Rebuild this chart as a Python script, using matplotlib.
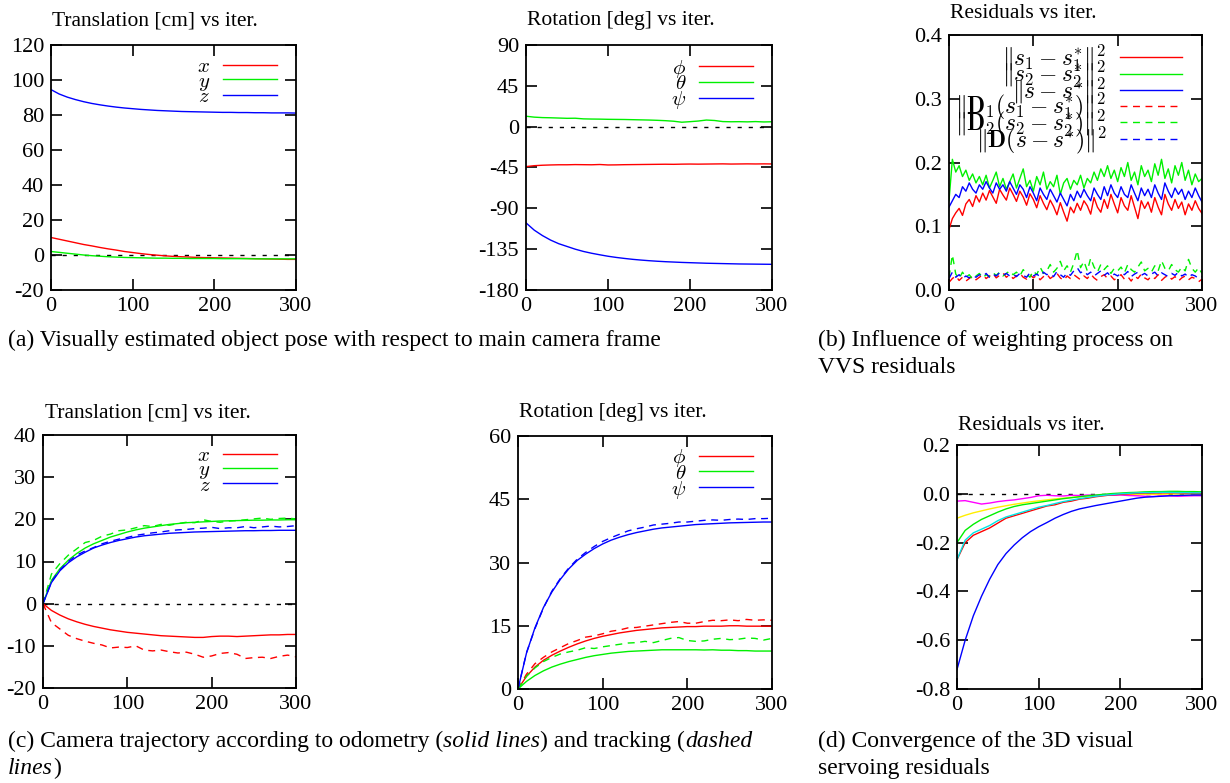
import numpy as np
import matplotlib
matplotlib.use("Agg")
import matplotlib.pyplot as plt

plt.rcParams['font.family'] = ['Liberation Serif', 'DejaVu Serif']
plt.rcParams['mathtext.fontset'] = 'cm'
plt.rcParams['axes.unicode_minus'] = False

# iteration grids
iters10 = np.arange(0, 301, 10)
iters4 = np.arange(0, 301, 4)

# (a) object pose, translation [cm]
obj_tx = [10.0, 9.0, 8.0, 7.0, 6.0, 5.2, 4.3, 3.5, 2.8, 2.0, 1.4, 0.8, 0.3, -0.1, -0.5, -0.8,
          -1.0, -1.2, -1.4, -1.5, -1.6, -1.7, -1.8, -1.9, -2.0, -2.1, -2.2, -2.3, -2.4, -2.5, -2.5]
obj_ty = [2.0, 1.5, 1.0, 0.5, 0.0, -0.4, -0.7, -1.0, -1.2, -1.4, -1.5, -1.6, -1.7, -1.8, -1.8, -1.9,
          -1.9, -2.0, -2.0, -2.0, -2.0, -2.1, -2.1, -2.1, -2.1, -2.2, -2.2, -2.2, -2.2, -2.2, -2.2]
obj_tz = [94.5, 92.0, 90.2, 88.8, 87.6, 86.6, 85.8, 85.1, 84.5, 84.0, 83.6, 83.2, 82.9, 82.6, 82.4, 82.2,
          82.0, 81.9, 81.8, 81.7, 81.6, 81.5, 81.5, 81.4, 81.4, 81.3, 81.3, 81.2, 81.2, 81.2, 81.1]

# (a) object pose, rotation [deg]
obj_phi = [-44.0, -43.0, -42.5, -42.2, -42.0, -42.0, -41.8, -41.9, -42.0, -41.7, -42.2, -42.1, -41.9, -41.8,
           -41.7, -41.6, -41.5, -41.4, -41.5, -41.3, -41.2, -41.3, -41.2, -41.1, -41.0, -41.2, -41.1, -41.0,
           -41.1, -41.0, -41.1]
obj_theta = [11.5, 10.5, 10.0, 9.8, 9.5, 9.2, 9.3, 8.6, 8.4, 8.3, 8.1, 8.0, 7.9, 7.7, 7.5, 7.3, 7.0, 6.6,
             6.0, 4.9, 5.5, 6.2, 7.3, 6.8, 5.6, 5.4, 5.5, 5.3, 5.6, 5.2, 5.4]
obj_psi = [-106.0, -114.0, -120.0, -125.0, -129.0, -132.0, -135.0, -137.5, -139.5, -141.2, -142.8, -144.1,
           -145.2, -146.2, -147.0, -147.7, -148.3, -148.8, -149.2, -149.6, -149.9, -150.2, -150.5, -150.7,
           -150.9, -151.1, -151.3, -151.4, -151.5, -151.6, -151.7]

# (b) residuals, solid = unweighted, dashed = weighted
res_s1 = [0.095, 0.112, 0.121, 0.128, 0.117, 0.135, 0.142, 0.131, 0.148, 0.138,
          0.152, 0.141, 0.156, 0.146, 0.136, 0.158, 0.149, 0.141, 0.160, 0.150,
          0.139, 0.155, 0.146, 0.133, 0.151, 0.142, 0.129, 0.148, 0.136, 0.126,
          0.141, 0.131, 0.118, 0.137, 0.122, 0.108, 0.130, 0.121, 0.136, 0.125,
          0.140, 0.132, 0.119, 0.145, 0.130, 0.122, 0.142, 0.128, 0.150, 0.135,
          0.121, 0.145, 0.132, 0.125, 0.148, 0.130, 0.112, 0.140, 0.128, 0.138,
          0.122, 0.145, 0.130, 0.118, 0.150, 0.135, 0.125, 0.142, 0.128, 0.138,
          0.118, 0.135, 0.125, 0.140, 0.128, 0.120]
res_s2 = [0.140, 0.205, 0.185, 0.195, 0.178, 0.188, 0.172, 0.182, 0.168, 0.178,
          0.165, 0.180, 0.160, 0.172, 0.185, 0.162, 0.175, 0.158, 0.170, 0.182,
          0.160, 0.175, 0.190, 0.162, 0.172, 0.155, 0.178, 0.165, 0.185, 0.158,
          0.170, 0.162, 0.180, 0.150, 0.168, 0.175, 0.158, 0.172, 0.165, 0.180,
          0.160, 0.175, 0.168, 0.185, 0.172, 0.190, 0.178, 0.195, 0.175, 0.188,
          0.170, 0.192, 0.178, 0.200, 0.172, 0.185, 0.165, 0.195, 0.178, 0.188,
          0.170, 0.198, 0.180, 0.205, 0.175, 0.190, 0.168, 0.195, 0.180, 0.200,
          0.172, 0.188, 0.165, 0.182, 0.170, 0.175]
res_s = [0.130, 0.140, 0.150, 0.145, 0.162, 0.155, 0.168, 0.158, 0.152, 0.165,
         0.158, 0.170, 0.160, 0.152, 0.168, 0.158, 0.165, 0.155, 0.170, 0.160,
         0.150, 0.165, 0.158, 0.145, 0.162, 0.152, 0.140, 0.160, 0.150, 0.142,
         0.158, 0.148, 0.138, 0.152, 0.142, 0.132, 0.150, 0.140, 0.155, 0.145,
         0.158, 0.148, 0.140, 0.160, 0.150, 0.142, 0.162, 0.148, 0.165, 0.152,
         0.145, 0.162, 0.150, 0.145, 0.165, 0.152, 0.140, 0.160, 0.148, 0.158,
         0.145, 0.165, 0.152, 0.142, 0.168, 0.155, 0.145, 0.160, 0.150, 0.158,
         0.142, 0.155, 0.145, 0.160, 0.148, 0.138]
res_d1 = [0.012, 0.018, 0.022, 0.015, 0.020, 0.014, 0.018, 0.022, 0.016, 0.020,
          0.024, 0.018, 0.022, 0.026, 0.019, 0.023, 0.027, 0.020, 0.024, 0.018,
          0.022, 0.026, 0.020, 0.017, 0.024, 0.019, 0.023, 0.016, 0.021, 0.025,
          0.018, 0.022, 0.026, 0.019, 0.015, 0.022, 0.018, 0.024, 0.020, 0.016,
          0.022, 0.018, 0.025, 0.019, 0.015, 0.021, 0.024, 0.018, 0.022, 0.016,
          0.020, 0.024, 0.017, 0.021, 0.014, 0.022, 0.018, 0.025, 0.019, 0.016,
          0.022, 0.018, 0.024, 0.015, 0.020, 0.023, 0.017, 0.021, 0.014, 0.019,
          0.022, 0.016, 0.020, 0.018, 0.013, 0.017]
res_d2 = [0.020, 0.055, 0.025, 0.018, 0.028, 0.020, 0.024, 0.017, 0.022, 0.026,
          0.019, 0.024, 0.021, 0.027, 0.023, 0.028, 0.022, 0.026, 0.030, 0.024,
          0.028, 0.022, 0.032, 0.025, 0.020, 0.030, 0.024, 0.036, 0.026, 0.030,
          0.040, 0.028, 0.034, 0.045, 0.030, 0.038, 0.028, 0.042, 0.062, 0.035,
          0.045, 0.030, 0.050, 0.036, 0.028, 0.040, 0.032, 0.038, 0.026, 0.034,
          0.030, 0.036, 0.027, 0.040, 0.032, 0.028, 0.036, 0.044, 0.030, 0.034,
          0.028, 0.038, 0.030, 0.046, 0.034, 0.030, 0.040, 0.032, 0.028, 0.036,
          0.030, 0.048, 0.034, 0.028, 0.035, 0.026]
res_d = [0.018, 0.028, 0.020, 0.024, 0.018, 0.022, 0.019, 0.023, 0.020, 0.024,
         0.021, 0.026, 0.020, 0.025, 0.022, 0.027, 0.023, 0.026, 0.022, 0.025,
         0.021, 0.026, 0.023, 0.020, 0.027, 0.022, 0.025, 0.021, 0.028, 0.024,
         0.026, 0.021, 0.029, 0.024, 0.020, 0.027, 0.023, 0.030, 0.035, 0.027,
         0.030, 0.024, 0.028, 0.022, 0.026, 0.030, 0.023, 0.027, 0.021, 0.025,
         0.022, 0.027, 0.024, 0.029, 0.021, 0.025, 0.028, 0.023, 0.026, 0.022,
         0.025, 0.028, 0.022, 0.027, 0.024, 0.021, 0.026, 0.023, 0.028, 0.022,
         0.025, 0.020, 0.024, 0.022, 0.018, 0.021]

# (c) camera trajectory, translation [cm]: odometry / tracking
cam_tx = [0.0, -1.6, -2.7, -3.6, -4.3, -4.9, -5.4, -5.8, -6.2, -6.5, -6.8, -7.0, -7.2, -7.4, -7.6, -7.7,
          -7.8, -7.9, -8.0, -8.0, -7.8, -7.7, -7.7, -7.8, -7.7, -7.6, -7.5, -7.4, -7.4, -7.3, -7.3]
cam_ty = [0.0, 5.5, 8.3, 10.3, 11.9, 13.2, 14.2, 15.0, 15.8, 16.4, 17.0, 17.5, 17.9, 18.2, 18.5, 18.8,
          19.0, 19.2, 19.3, 19.4, 19.5, 19.6, 19.65, 19.7, 19.75, 19.8, 19.8, 19.85, 19.85, 19.9, 19.9]
cam_tz = [0.0, 5.0, 7.8, 9.7, 11.1, 12.2, 13.2, 13.9, 14.5, 15.0, 15.4, 15.8, 16.1, 16.3, 16.5, 16.7,
          16.8, 16.9, 17.0, 17.05, 17.1, 17.15, 17.2, 17.25, 17.3, 17.3, 17.35, 17.35, 17.4, 17.4, 17.4]
trk_tx = [0.0, -4.5, -6.0, -7.5, -8.3, -8.9, -9.4, -9.8, -10.5, -10.3, -10.4, -10.0, -11.0, -11.2, -11.0,
          -11.4, -11.7, -11.5, -12.0, -12.7, -12.4, -11.8, -11.6, -12.0, -13.0, -12.8, -12.7, -13.0,
          -12.5, -12.2, -12.6]
trk_ty = [0.0, 7.0, 9.5, 11.5, 13.0, 14.5, 15.0, 16.0, 16.5, 17.3, 17.5, 18.0, 18.5, 18.3, 18.8, 18.6,
          19.0, 19.3, 19.2, 19.9, 19.5, 19.3, 19.6, 19.7, 19.9, 20.1, 20.3, 20.0, 20.2, 20.3, 20.1]
trk_tz = [0.0, 5.2, 8.0, 10.0, 11.5, 12.5, 13.3, 14.2, 14.8, 15.3, 15.7, 16.2, 16.5, 16.8, 17.0, 17.3,
          17.5, 17.6, 17.8, 17.9, 18.1, 17.8, 18.0, 18.0, 18.3, 18.0, 18.2, 18.4, 18.2, 18.3, 18.5]

# (c) camera trajectory, rotation [deg]
cam_phi = [0.0, 3.0, 5.2, 6.8, 8.0, 9.0, 9.9, 10.7, 11.4, 12.0, 12.5, 12.9, 13.3, 13.6, 13.9, 14.1,
           14.3, 14.5, 14.6, 14.7, 14.8, 14.8, 14.9, 14.9, 14.9, 15.0, 15.0, 14.9, 14.9, 14.9, 14.9]
cam_theta = [0.0, 1.8, 3.2, 4.3, 5.2, 5.9, 6.5, 7.0, 7.5, 7.9, 8.2, 8.5, 8.7, 8.9, 9.0, 9.1,
             9.2, 9.3, 9.3, 9.3, 9.3, 9.3, 9.25, 9.3, 9.2, 9.2, 9.1, 9.1, 9.0, 9.0, 9.0]
cam_psi = [0.0, 8.5, 14.5, 19.3, 23.0, 26.0, 28.5, 30.5, 32.0, 33.3, 34.4, 35.3, 36.0, 36.6, 37.1, 37.5,
           37.9, 38.2, 38.4, 38.6, 38.8, 39.0, 39.1, 39.2, 39.3, 39.4, 39.45, 39.5, 39.55, 39.6, 39.6]
trk_phi = [0.0, 3.5, 6.0, 7.5, 8.8, 9.8, 10.8, 11.5, 12.3, 12.6, 13.1, 13.7, 14.0, 14.5, 14.6, 14.9,
           15.2, 15.5, 15.8, 16.0, 15.6, 15.6, 16.0, 16.3, 16.2, 16.4, 16.2, 16.5, 16.3, 16.4, 16.3]
trk_theta = [0.0, 3.0, 5.0, 6.5, 7.5, 8.3, 8.8, 9.2, 9.8, 9.6, 10.0, 10.3, 10.6, 10.9, 11.0, 11.3,
             11.0, 11.5, 12.0, 12.2, 11.5, 11.3, 11.4, 11.8, 12.0, 11.7, 11.8, 12.1, 12.0, 11.6, 12.0]
trk_psi = [0.0, 8.6, 14.3, 19.2, 23.2, 26.2, 28.7, 30.8, 32.4, 33.8, 35.0, 35.9, 36.7, 37.5, 38.0, 38.4,
           38.9, 39.1, 39.3, 39.6, 39.6, 39.8, 40.0, 40.1, 40.0, 40.2, 40.3, 40.2, 40.4, 40.4, 40.5]

# (d) 3D visual servoing residuals
vs_red = [-0.27, -0.20, -0.17, -0.155, -0.14, -0.12, -0.10, -0.09, -0.08, -0.07, -0.06, -0.05, -0.045,
          -0.035, -0.03, -0.022, -0.018, -0.012, -0.008, -0.004, -0.002, 0.0, 0.002, 0.003, 0.003, 0.004,
          0.004, 0.004, 0.003, 0.003, 0.002]
vs_green = [-0.20, -0.15, -0.125, -0.105, -0.09, -0.075, -0.062, -0.052, -0.045, -0.04, -0.035, -0.03,
            -0.025, -0.02, -0.016, -0.012, -0.008, -0.005, -0.002, 0.001, 0.003, 0.005, 0.006, 0.008,
            0.009, 0.009, 0.010, 0.010, 0.009, 0.009, 0.008]
vs_blue = [-0.72, -0.60, -0.50, -0.42, -0.35, -0.29, -0.245, -0.21, -0.18, -0.155, -0.135, -0.118, -0.10,
           -0.085, -0.072, -0.062, -0.055, -0.048, -0.042, -0.036, -0.030, -0.024, -0.018, -0.014, -0.012,
           -0.010, -0.008, -0.007, -0.006, -0.005, -0.005]
vs_magenta = [-0.03, -0.028, -0.035, -0.042, -0.038, -0.032, -0.028, -0.025, -0.02, -0.015, -0.008,
              -0.006, -0.008, -0.009, -0.006, -0.007, -0.005, -0.006, -0.004, -0.006, -0.005, -0.007,
              -0.008, -0.01, -0.011, -0.009, -0.008, -0.010, -0.009, -0.008, -0.008]
vs_cyan = [-0.27, -0.19, -0.16, -0.145, -0.13, -0.11, -0.095, -0.085, -0.075, -0.065, -0.055, -0.048,
           -0.04, -0.032, -0.026, -0.02, -0.015, -0.01, -0.006, -0.003, 0.0, 0.002, 0.004, 0.005, 0.005,
           0.006, 0.006, 0.005, 0.005, 0.004, 0.004]
vs_yellow = [-0.10, -0.088, -0.078, -0.070, -0.062, -0.055, -0.049, -0.043, -0.038, -0.033, -0.029,
             -0.025, -0.021, -0.018, -0.015, -0.012, -0.010, -0.008, -0.006, -0.005, -0.004, -0.003,
             -0.003, -0.002, -0.002, -0.002, -0.001, -0.001, -0.001, -0.001, -0.001]

trans_labels = ['$x$', '$y$', '$z$']
rot_labels = [r'$\phi$', r'$\theta$', r'$\psi$']
res_labels = [r'$\Vert s_1 - s_1^{*}\Vert^2$', r'$\Vert s_2 - s_2^{*}\Vert^2$', r'$\Vert s - s^{*}\Vert^2$',
              r'$\Vert \mathbf{D}_1(s_1 - s_1^{*})\Vert^2$', r'$\Vert \mathbf{D}_2(s_2 - s_2^{*})\Vert^2$',
              r'$\Vert \mathbf{D}(s - s^{*})\Vert^2$']

RED, GREEN, BLUE = '#ff0000', '#00f000', '#0000ff'
DASH = (0, (5, 4))
W, H = 1230, 783

fig = plt.figure(figsize=(W / 100, H / 100), dpi=100)


def add_ax(l, t, r, b):
    return fig.add_axes([l / W, 1 - b / H, (r - l) / W, (b - t) / H])


def style(ax, ylim, yticks, fmt=None):
    ax.set_xlim(0, 300)
    ax.set_xticks([0, 100, 200, 300])
    ax.set_ylim(*ylim)
    ax.set_yticks(yticks)
    if fmt:
        ax.set_yticklabels([fmt % v for v in yticks])
    ax.tick_params(direction='in', top=True, right=True, length=8, width=1.2, labelsize=16, pad=5)
    for s in ax.spines.values():
        s.set_linewidth(1.3)


def zero_line(ax):
    ax.axhline(0, color='k', lw=1.0, ls=(0, (3, 5)), zorder=1)


def legend(ax, anchor, fs=15, spacing=-0.25, hl=2.6):
    ax.legend(loc='upper right', bbox_to_anchor=anchor, frameon=False, markerfirst=False,
              fontsize=fs, labelspacing=spacing, handlelength=hl, handletextpad=0.6,
              borderpad=0, borderaxespad=0)


def title(x, y, s):
    fig.text(x / W, 1 - y / H, s, fontsize=15.5, va='center', ha='left')


# (a) translation
ax = add_ax(51, 45, 296, 290)
zero_line(ax)
for v, c, lab in zip([obj_tx, obj_ty, obj_tz], [RED, GREEN, BLUE], trans_labels):
    ax.plot(iters10, v, color=c, lw=1.0, label=lab)
style(ax, (-20, 120), np.arange(-20, 121, 20))
legend(ax, (0.922, 0.948))
title(52, 21, 'Translation [cm] vs iter.')

# (a) rotation
ax = add_ax(526, 45, 772, 290)
zero_line(ax)
for v, c, lab in zip([obj_phi, obj_theta, obj_psi], [RED, GREEN, BLUE], rot_labels):
    ax.plot(iters10, v, color=c, lw=1.0, label=lab)
style(ax, (-180, 90), np.arange(-180, 91, 45))
legend(ax, (0.922, 0.948))
title(527, 21, 'Rotation [deg] vs iter.')

# (b) residuals
ax = add_ax(949, 35, 1202, 290)
for v, c, lab in zip([res_s1, res_s2, res_s], [RED, GREEN, BLUE], res_labels[:3]):
    ax.plot(iters4, v, color=c, lw=1.0, label=lab)
for v, c, lab in zip([res_d1, res_d2, res_d], [RED, GREEN, BLUE], res_labels[3:]):
    ax.plot(iters4, v, color=c, lw=1.0, ls=DASH, label=lab)
style(ax, (0, 0.4), [0.0, 0.1, 0.2, 0.3, 0.4], '%.1f')
legend(ax, (0.92, 0.97), fs=17, spacing=-0.62)
title(950, 14, 'Residuals vs iter.')

# (c) translation
ax = add_ax(43, 435, 296, 688)
zero_line(ax)
for v, w, c, lab in zip([cam_tx, cam_ty, cam_tz], [trk_tx, trk_ty, trk_tz], [RED, GREEN, BLUE], trans_labels):
    ax.plot(iters10, v, color=c, lw=1.0, label=lab)
    ax.plot(iters10, w, color=c, lw=1.0, ls=DASH)
style(ax, (-20, 40), np.arange(-20, 41, 10))
legend(ax, (0.925, 0.955))
title(45, 413, 'Translation [cm] vs iter.')

# (c) rotation
ax = add_ax(518, 436, 772, 689)
for v, w, c, lab in zip([cam_phi, cam_theta, cam_psi], [trk_phi, trk_theta, trk_psi], [RED, GREEN, BLUE], rot_labels):
    ax.plot(iters10, v, color=c, lw=1.0, label=lab)
    ax.plot(iters10, w, color=c, lw=1.0, ls=DASH)
style(ax, (0, 60), np.arange(0, 61, 15))
legend(ax, (0.925, 0.955))
title(519, 413, 'Rotation [deg] vs iter.')

# (d) visual servoing residuals
ax = add_ax(957, 445, 1202, 689)
zero_line(ax)
for v, c in zip([vs_yellow, vs_magenta, vs_green, vs_red, vs_cyan, vs_blue],
                ['#ffee00', '#ff00ff', GREEN, RED, '#00e5e5', BLUE]):
    ax.plot(iters10, v, color=c, lw=1.0)
style(ax, (-0.8, 0.2), [-0.8, -0.6, -0.4, -0.2, 0.0, 0.2], '%.1f')
title(958, 425, 'Residuals vs iter.')

# captions
CAP = 17


def caption(x, y, parts):
    r = fig.canvas.get_renderer()
    for s, st in parts:
        t = fig.text(x / W, 1 - y / H, s, fontsize=CAP, style=st, va='baseline', ha='left')
        x += t.get_window_extent(r).width


caption(8, 346, [('(a) Visually estimated object pose with respect to main camera frame', 'normal')])
caption(818, 346, [('(b) Influence of weighting process on', 'normal')])
caption(818, 373, [('VVS residuals', 'normal')])
caption(8, 747, [('(c) Camera trajectory according to odometry (', 'normal'), ('solid lines', 'italic'),
                 (') and tracking (', 'normal'), ('dashed', 'italic')])
caption(8, 774, [('lines', 'italic'), (')', 'normal')])
caption(818, 747, [('(d) Convergence of the 3D visual', 'normal')])
caption(818, 774, [('servoing residuals', 'normal')])

fig.savefig('out.png', dpi=100)
